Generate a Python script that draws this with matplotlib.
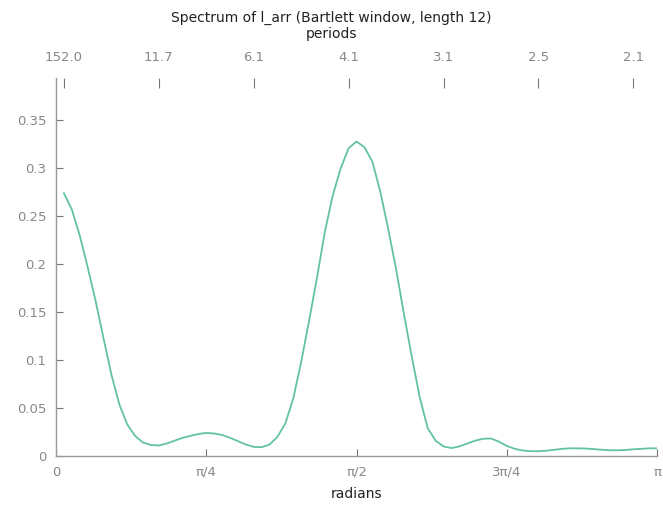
import numpy as np
import matplotlib
matplotlib.use("Agg")
import matplotlib.pyplot as plt

# spectrum ordinates at Fourier frequencies j = 1..76 (T = 152)
n_obs = 152
density = [
    0.274, 0.257, 0.230, 0.197, 0.162, 0.123, 0.085, 0.054, 0.033, 0.021,
    0.014, 0.0115, 0.011, 0.013, 0.016, 0.019, 0.021, 0.023, 0.024, 0.0235,
    0.022, 0.019, 0.0155, 0.012, 0.0095, 0.0092, 0.012, 0.020, 0.034, 0.060,
    0.098, 0.141, 0.186, 0.234, 0.272, 0.300, 0.321, 0.328, 0.322, 0.307,
    0.276, 0.237, 0.195, 0.148, 0.103, 0.061, 0.029, 0.016, 0.010, 0.0083,
    0.010, 0.013, 0.016, 0.018, 0.0183, 0.015, 0.0105, 0.0075, 0.0058, 0.005,
    0.005, 0.0055, 0.0065, 0.0075, 0.008, 0.008, 0.0078, 0.0072, 0.0065, 0.006,
    0.006, 0.0063, 0.007, 0.0075, 0.008, 0.008,
]
period_j = [1, 13, 25, 37, 49, 61, 73]
period_labels = ["152.0", "11.7", "6.1", "4.1", "3.1", "2.5", "2.1"]
rad_labels = ["0", "π/4", "π/2", "3π/4", "π"]
y_ticks = [0, 0.05, 0.1, 0.15, 0.2, 0.25, 0.3, 0.35]

grey = "#888888"
dark = "#222222"

freq = 2 * np.pi * np.arange(1, len(density) + 1) / n_obs

fig = plt.figure(figsize=(6.63, 5.11), dpi=100)
ax = fig.add_axes([0.0845, 0.1076, 0.9065, 0.7394])
ax.plot(freq, density, color="#62c2a2", lw=1.3)

ax.set_xlim(0, np.pi)
ax.set_ylim(0, 0.394)
for s in ["top", "right"]:
    ax.spines[s].set_visible(False)
for s in ["left", "bottom"]:
    ax.spines[s].set_color("#999999")
    ax.spines[s].set_linewidth(1.0)

ax.set_xticks(np.arange(5) * np.pi / 4)
ax.set_xticklabels(rad_labels)
ax.set_yticks(y_ticks)
ax.set_yticklabels(["0" if v == 0 else f"{v:g}" for v in y_ticks])
ax.tick_params(direction="in", length=5, color="#777777", labelcolor=grey,
               labelsize=9.5, pad=7)
ax.set_xlabel("radians", fontsize=10, color=dark, labelpad=6)

top = ax.secondary_xaxis("top")
top.set_xticks(2 * np.pi * np.array(period_j) / n_obs)
top.set_xticklabels(period_labels)
top.tick_params(direction="in", length=7, color="#777777", labelcolor=grey,
                labelsize=9.5, pad=10)
top.spines["top"].set_visible(False)

fig.text(0.5, 0.965, "Spectrum of l_arr (Bartlett window, length 12)",
         ha="center", va="center", fontsize=10, color=dark)
fig.text(0.5, 0.933, "periods", ha="center", va="center", fontsize=10, color=dark)

fig.savefig("out.png", dpi=100, facecolor="white")
